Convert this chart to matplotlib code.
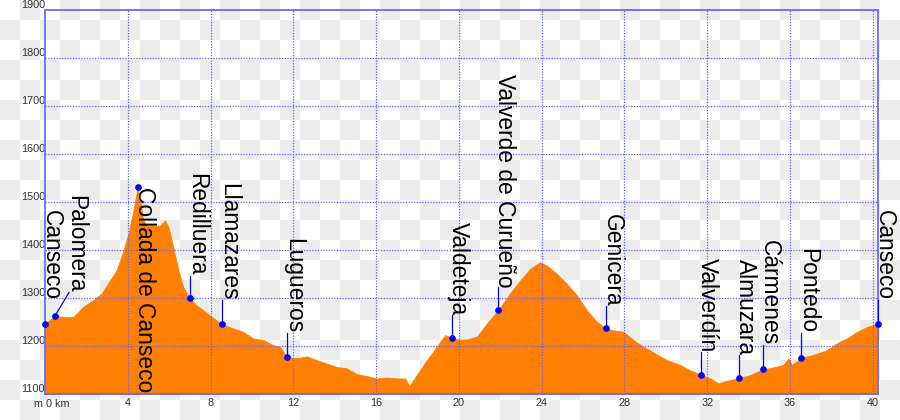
import numpy as np
import matplotlib
matplotlib.use("Agg")
import matplotlib.pyplot as plt

# ---- data ----
dist_km = [0, 0.48, 0.89, 1.37, 1.85, 2.33, 2.74, 3.14, 3.46, 3.79, 4.03, 4.27, 4.48, 4.6,
           4.75, 4.93, 5.24, 5.56, 5.8, 5.96, 6.2, 6.44, 6.68, 7.0, 7.33, 7.65, 7.97, 8.54,
           9.1, 9.58, 10.07, 10.55, 11.04, 11.36, 11.68, 12.17, 12.65, 13.13, 13.61, 14.1,
           14.58, 15.06, 15.55, 16.03, 16.51, 17.0, 17.4, 17.6, 17.96, 18.45, 18.93, 19.33,
           19.66, 19.97, 20.38, 20.86, 21.35, 21.91, 22.47, 22.96, 23.44, 23.92, 24.25, 24.73,
           25.21, 25.7, 26.18, 26.66, 27.1, 27.47, 27.95, 28.43, 28.92, 29.48, 30.05, 30.69,
           31.17, 31.68, 32.14, 32.54, 32.95, 33.55, 34.07, 34.7, 35.2, 35.68, 35.92, 36.08,
           36.55, 37.13, 37.78, 38.26, 38.74, 39.23, 39.71, 40.24]
elev_m = [1247, 1263, 1261, 1261, 1282, 1296, 1310, 1337, 1358, 1399, 1434, 1482, 1531, 1503,
          1462, 1451, 1451, 1451, 1462, 1448, 1406, 1358, 1323, 1300, 1285, 1275, 1264, 1246,
          1237, 1230, 1216, 1213, 1202, 1199, 1177, 1175, 1179, 1171, 1164, 1157,
          1154, 1142, 1138, 1133, 1135, 1133, 1133, 1116, 1140, 1171, 1199, 1223,
          1218, 1214, 1214, 1220, 1247, 1276, 1310, 1337, 1361, 1375, 1368, 1351,
          1330, 1306, 1275, 1251, 1237, 1233, 1230, 1213, 1199, 1185, 1171, 1161,
          1150, 1141, 1133, 1123, 1128, 1134, 1140, 1152, 1156, 1161, 1175, 1161,
          1176, 1182, 1192, 1206, 1216, 1230, 1240, 1247]

place_names = ["Canseco", "Palomera", "Collada de Canseco", "Redilluera", "Llamazares",
               "Lugueros", "Valdeteja", "Valverde de Curueño", "Genicera", "Valverdín",
               "Almuzara", "Cármenes", "Pontedo", "Canseco"]
place_km = [0.0, 0.48, 4.48, 7.0, 8.54, 11.68, 19.66, 21.91, 27.1, 31.68, 33.55, 34.7, 36.55, 40.24]
place_elev = [1247, 1263, 1531, 1300, 1246, 1177, 1218, 1276, 1237, 1141, 1134, 1152, 1176, 1247]

x_ticks = [4, 8, 12, 16, 20, 24, 28, 32, 36, 40]
y_ticks = [1100, 1200, 1300, 1400, 1500, 1600, 1700, 1800, 1900]

# ---- layout (label placement: end of text, x of text) ----
label_end = [1296, 1312, 1105, 1347, 1296, 1227, 1265, 1323, 1283, 1188, 1181, 1202, 1227, 1296]
label_x = [0.0, 1.16, 4.48, 7.0, 8.54, 11.68, 19.66, 21.91, 27.1, 31.68, 33.55, 34.7, 36.55, 40.24]
draw_line = [False, True, False, True, True, True, True, True, True, True, True, True, True, True]

W, H = 900, 420
fig = plt.figure(figsize=(W / 100, H / 100), dpi=100)
fig.patch.set_alpha(0)

# checkerboard background
rows = np.arange(H)[:, None] // 20
cols = np.arange(W)[None, :] // 20
odd = (rows + cols) % 2 == 1
bg = np.where(odd[..., None], np.array([236, 236, 236], np.uint8),
              np.array([255, 255, 255], np.uint8)).astype(np.uint8)
fig.figimage(bg, xo=0, yo=0, origin="upper", zorder=-10)

ax = fig.add_axes([45 / W, 1 - 394.3 / H, 833 / W, 384.3 / H])
ax.set_zorder(1)
ax.set_facecolor("none")
ax.set_xlim(0, 40.25)
ax.set_ylim(1100, 1900)

blue = "#6a6aff"
for s in ax.spines.values():
    s.set_color(blue)
    s.set_linewidth(1.3)

ax.fill_between(dist_km, 1100, elev_m, color="#ff8000", lw=0.6, edgecolor="#ff8000", zorder=2)

for yv in y_ticks[1:-1]:
    ax.axhline(yv, color="#6060ff", lw=0.9, ls=(0, (1, 1.2)), zorder=3)
for xv in x_ticks:
    ax.axvline(xv, color="#6060ff", lw=0.9, ls=(0, (1, 1.2)), zorder=3)

ax.set_xticks(x_ticks)
ax.set_xticklabels([str(v) for v in x_ticks])
ax.set_yticks(y_ticks)
ax.set_yticklabels([str(v) for v in y_ticks])
ax.tick_params(length=0, labelsize=7.8, labelcolor="#333333", pad=3)
ax.tick_params(axis="y", pad=0)
for lbl in ax.get_yticklabels():
    lbl.set_verticalalignment("bottom")
ax.annotate("m 0 km", xy=(0, 1100), xycoords="data", xytext=(5, -3.5),
            textcoords="offset points", ha="center", va="top",
            fontsize=7.8, color="#333333", family="Liberation Sans")
for lbl in ax.get_xticklabels() + ax.get_yticklabels():
    lbl.set_family("Liberation Sans")

# waypoints
for name, km, ev, te, tx, dl in zip(place_names, place_km, place_elev,
                                   label_end, label_x, draw_line):
    if dl:
        ax.plot([km, tx], [ev, te], color="#0000ff", lw=0.9, zorder=5, clip_on=False)
    ax.plot([km], [ev], "o", color="#0000ff", ms=3.8, zorder=6, clip_on=False)
    ax.text(tx, te, name, rotation=-90, rotation_mode="anchor", ha="right",
            va="baseline", fontsize=16.4, color="black", family="Liberation Sans",
            zorder=7, clip_on=False)

fig.savefig("out.png", dpi=100)
